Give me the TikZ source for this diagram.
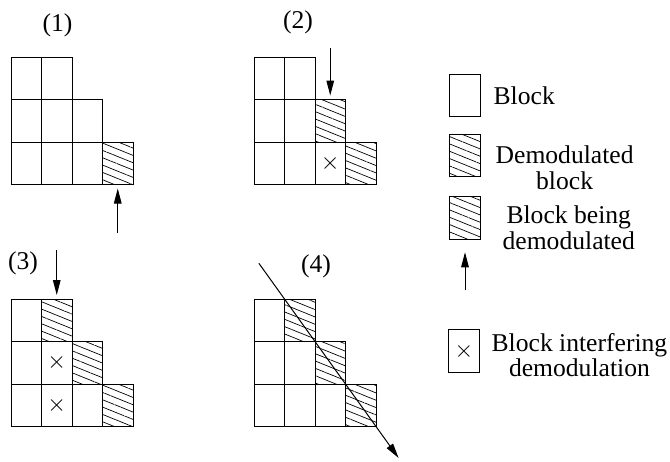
\documentclass[tikz,border=0pt]{standalone}
\usepackage{fontspec}
\setmainfont{Liberation Serif}
\usetikzlibrary{arrows.meta, patterns.meta, positioning, calc}

\tikzset{
  txt/.style={inner sep=0pt, font=\fontsize{12.8}{12.8}\selectfont},
  blk/.style={draw, line width=0.5pt, minimum width=15.25pt, minimum height=21.25pt, inner sep=0pt, outer sep=0pt},
  hblk/.style={blk, pattern={Lines[angle=-22, distance=3.4pt, line width=0.35pt]}},
  xblk/.style={blk, label={[txt]center:$\times$}},
  arr/.style={-{Triangle[length=7.5pt, width=3.8pt]}, line width=0.5pt}
}

\begin{document}
\begin{tikzpicture}[x=0.5pt, y=-0.5pt]
  \useasboundingbox (0,0) rectangle (670,461);

  % (1)
  \begin{scope}[shift={(11,57)}]
    \foreach \r/\c/\k in {0/0/blk, 0/1/blk, 1/0/blk, 1/1/blk, 1/2/blk, 2/0/blk, 2/1/blk, 2/2/blk, 2/3/hblk}
      \node[\k] (g1-\r-\c) at ({30.5*\c+15.25}, {42.5*\r+21.25}) {};
  \end{scope}
  \node[txt] (n1) at (57.5,25) {(1)};
  \coordinate[below=24pt of g1-2-3.south] (a1s);
  \draw[arr, shorten >=2pt] (a1s) -- (g1-2-3);

  % (2)
  \begin{scope}[shift={(254,57)}]
    \foreach \r/\c/\k in {0/0/blk, 0/1/blk, 1/0/blk, 1/1/blk, 1/2/hblk, 2/0/blk, 2/1/blk, 2/2/xblk, 2/3/hblk}
      \node[\k] (g2-\r-\c) at ({30.5*\c+15.25}, {42.5*\r+21.25}) {};
  \end{scope}
  \node[txt] (n2) at (298,22) {(2)};
  \coordinate[above=26pt of g2-1-2.north] (a2s);
  \draw[arr, shorten >=2pt] (a2s) -- (g2-1-2);

  % (3)
  \begin{scope}[shift={(11,299)}]
    \foreach \r/\c/\k in {0/0/blk, 0/1/hblk, 1/0/blk, 1/1/xblk, 1/2/hblk, 2/0/blk, 2/1/xblk, 2/2/blk, 2/3/hblk}
      \node[\k] (g3-\r-\c) at ({30.5*\c+15.25}, {42.5*\r+21.25}) {};
  \end{scope}
  \node[txt] (n3) at (23,263) {(3)};
  \coordinate[above=24.5pt of g3-0-1.north] (a3s);
  \draw[arr, shorten >=2pt] (a3s) -- (g3-0-1);

  % (4)
  \begin{scope}[shift={(254,299)}]
    \foreach \r/\c/\k in {0/0/blk, 0/1/hblk, 1/0/blk, 1/1/blk, 1/2/hblk, 2/0/blk, 2/1/blk, 2/2/blk, 2/3/hblk}
      \node[\k] (g4-\r-\c) at ({30.5*\c+15.25}, {42.5*\r+21.25}) {};
  \end{scope}
  \node[txt] (n4) at (316,266) {(4)};
  \coordinate (a4s) at ($(g4-0-1.north west)!-0.28!(g4-2-3.south east)$);
  \coordinate (a4e) at ($(g4-0-1.north west)!1.247!(g4-2-3.south east)$);
  \draw[arr] (a4s) -- (a4e);

  % legend
  \node[blk] (lg1) at (465,95.5) {};
  \node[hblk] (lg2) at (465,155.5) {};
  \node[hblk] (lg3) at (465,218) {};
  \node[xblk] (lg4) at (464,351) {};
  \node[txt, right=6.5pt of lg1] (t1) {Block};
  \node[txt, align=center, right=7.5pt of lg2, yshift=-6pt] (t2) {Demodulated\\block};
  \node[txt, align=center, right=11pt of lg3, yshift=-5pt] (t3) {Block being\\demodulated};
  \node[txt, align=center, right=6pt of lg4, yshift=-2pt] (t4) {Block interfering\\demodulation};
  \coordinate[below=25.5pt of lg3.south] (la);
  \draw[arr, shorten >=6.5pt] (la) -- (lg3);
\end{tikzpicture}
\end{document}
